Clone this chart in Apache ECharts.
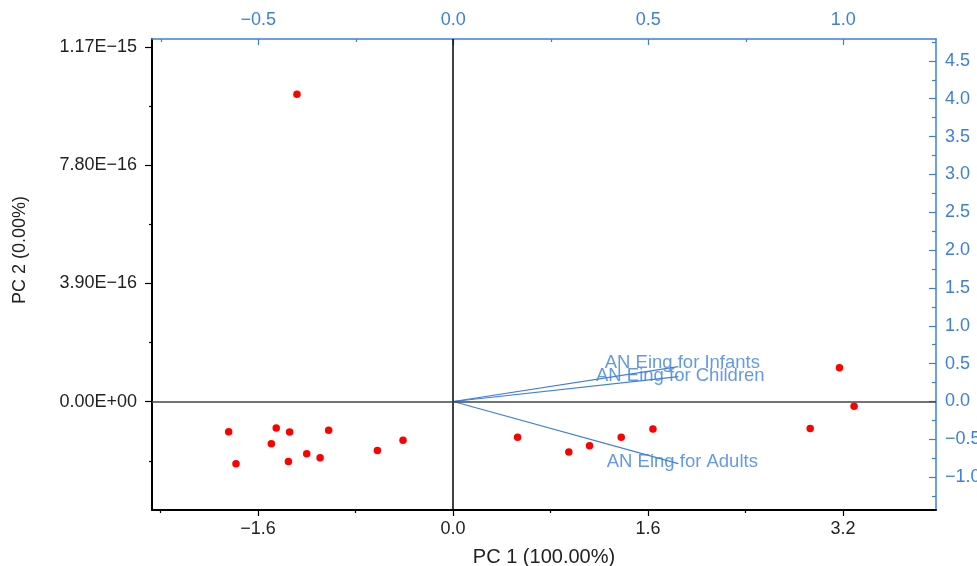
<!DOCTYPE html>
<html>
<head>
<meta charset="utf-8">
<title>PCA biplot</title>
<script src="https://cdn.jsdelivr.net/npm/echarts@6/dist/echarts.min.js"></script>
<style>
  html, body { margin: 0; padding: 0; background: #fff; }
  #chart { width: 977px; height: 566px; }
</style>
</head>
<body>
<div id="chart"></div>
<script>
// scores (bottom / left axes)
var pc1Scores = [-1.84, -1.78, -1.45, -1.34, -1.49, -1.35, -1.20, -1.09, -1.02, -0.62, -0.41, -1.28,
                 0.53, 0.95, 1.12, 1.38, 1.64, 2.93, 3.17, 3.29];
var pc2Scores = [-9.9e-17, -2.05e-16, -8.7e-17, -1.0e-16, -1.39e-16, -1.97e-16, -1.72e-16, -1.85e-16, -9.4e-17, -1.61e-16, -1.27e-16, 1.014e-15,
                 -1.17e-16, -1.66e-16, -1.45e-16, -1.17e-16, -9.0e-17, -8.8e-17, 1.12e-16, -1.5e-17];

// loadings (top / right axes)
var loadNames = ['AN Eing for Infants', 'AN Eing for Children', 'AN Eing for Adults'];
var loadPC1 = [0.577, 0.577, 0.577];
var loadPC2 = [0.46, 0.33, -0.82];

// tick values + labels
var bottomTicks = [-1.6, 0, 1.6, 3.2];
var bottomLabels = ['\u22121.6', '0.0', '1.6', '3.2'];
var bottomMinor = [-2.4, -0.8, 0.8, 2.4];
var leftTicks = [0, 3.9e-16, 7.8e-16, 1.17e-15];
var leftLabels = ['0.00E+00', '3.90E\u221216', '7.80E\u221216', '1.17E\u221215'];
var leftMinor = [-1.95e-16, 1.95e-16, 5.85e-16, 9.75e-16];
var topTicks = [-0.5, 0, 0.5, 1.0];
var topLabels = ['\u22120.5', '0.0', '0.5', '1.0'];
var topMinor = [-0.75, -0.25, 0.25, 0.75];
var rightTicks = [-1.0, -0.5, 0, 0.5, 1.0, 1.5, 2.0, 2.5, 3.0, 3.5, 4.0, 4.5];
var rightLabels = ['\u22121.0', '\u22120.5', '0.0', '0.5', '1.0', '1.5', '2.0', '2.5', '3.0', '3.5', '4.0', '4.5'];
var rightMinor = [-1.25, -0.75, -0.25, 0.25, 0.75, 1.25, 1.75, 2.25, 2.75, 3.25, 3.75, 4.25, 4.75];

var blue = '#3c7fe0';
var font = 'Liberation Sans';

function pick(ticks, labels) {
    return function (v) {
        var best = 0;
        for (var i = 1; i < ticks.length; i++) {
            if (Math.abs(v - ticks[i]) < Math.abs(v - ticks[best])) best = i;
        }
        return labels[best];
    };
}

var xr = [-2.469, 3.962];
var yr = [-3.573e-16, 1.1967e-15];
var txr = [-0.7726, 1.2377];
var ryr = [-1.433, 4.789];

function majorAxis(pos, range, ticks, labels, color, lineW, tickLen, inside, margin) {
    return {
        type: 'value', position: pos, min: range[0], max: range[1],
        axisLine: { show: true, onZero: false, lineStyle: { color: color, width: lineW } },
        axisTick: { show: true, inside: inside, length: tickLen, customValues: ticks, lineStyle: { color: color, width: 1.2 } },
        axisLabel: { show: true, customValues: ticks, formatter: pick(ticks, labels), margin: margin,
                     color: color === '#000' ? '#222' : color, fontSize: 18, fontFamily: font },
        splitLine: { show: false }
    };
}
function minorAxis(pos, range, ticks, color, tickLen, inside) {
    return {
        type: 'value', position: pos, min: range[0], max: range[1],
        axisLine: { show: false, onZero: false },
        axisTick: { show: true, inside: inside, length: tickLen, customValues: ticks, lineStyle: { color: color, width: 1.2 } },
        axisLabel: { show: false },
        splitLine: { show: false }
    };
}

var bottomAxis = majorAxis('bottom', xr, bottomTicks, bottomLabels, '#000', 2, 6, false, 10);
bottomAxis.name = 'PC 1 (100.00%)';
bottomAxis.nameLocation = 'middle';
bottomAxis.nameGap = 37;
bottomAxis.nameTextStyle = { fontSize: 20, fontFamily: font, color: '#222' };

var chart = echarts.init(document.getElementById('chart'));
chart.setOption({
    animation: false,
    grid: { left: 152, right: 41, top: 39, bottom: 56, containLabel: false, outerBoundsMode: 'none' },
    xAxis: [
        bottomAxis,
        majorAxis('top', txr, topTicks, topLabels, blue, 1.5, 6, true, 10),
        minorAxis('bottom', xr, bottomMinor, '#000', 3, false),
        minorAxis('top', txr, topMinor, blue, 3, true)
    ],
    yAxis: [
        majorAxis('left', yr, leftTicks, leftLabels, '#000', 2, 7, false, 15),
        majorAxis('right', ryr, rightTicks, rightLabels, blue, 1.5, 7, true, 9),
        minorAxis('left', yr, leftMinor, '#000', 3, false),
        minorAxis('right', ryr, rightMinor, blue, 4, true)
    ],
    graphic: [{
        type: 'text', x: 20, y: 250, rotation: Math.PI / 2,
        style: { text: 'PC 2 (0.00%)', font: '18px "Liberation Sans"', fill: '#222',
                 textAlign: 'center', textVerticalAlign: 'middle', align: 'center', verticalAlign: 'middle' }
    }],
    series: [
        {
            type: 'scatter', xAxisIndex: 0, yAxisIndex: 0,
            symbolSize: 7.5,
            itemStyle: { color: '#ff0000', opacity: 1 },
            data: pc1Scores.map(function (x, i) { return [x, pc2Scores[i]]; }),
            markLine: {
                silent: true, symbol: ['none', 'none'], label: { show: false },
                data: [
                    { xAxis: 0, lineStyle: { color: '#000', width: 1.5, type: 'solid' } },
                    { yAxis: 0, lineStyle: { color: '#444', width: 1.5, type: 'solid' } }
                ]
            }
        }
    ].concat(loadNames.map(function (n, i) {
        return {
            type: 'line', xAxisIndex: 1, yAxisIndex: 1,
            symbol: 'none',
            lineStyle: { color: blue, width: 1.2 },
            data: [[0, 0], [loadPC1[i], loadPC2[i]]]
        };
    })).concat([{
        type: 'scatter', xAxisIndex: 1, yAxisIndex: 1,
        symbolSize: 1,
        itemStyle: { color: 'rgba(0,0,0,0)' },
        label: { show: true, position: 'inside', formatter: '{b}', color: blue, fontSize: 18.5, fontFamily: font },
        data: loadNames.map(function (n, i) {
            var off = [i === 1 ? 2 : 4, i === 0 ? -4 : (i === 1 ? -1 : -2)];
            return { name: n, value: [loadPC1[i], loadPC2[i]], label: { offset: off } };
        })
    }])
});
</script>
</body>
</html>
